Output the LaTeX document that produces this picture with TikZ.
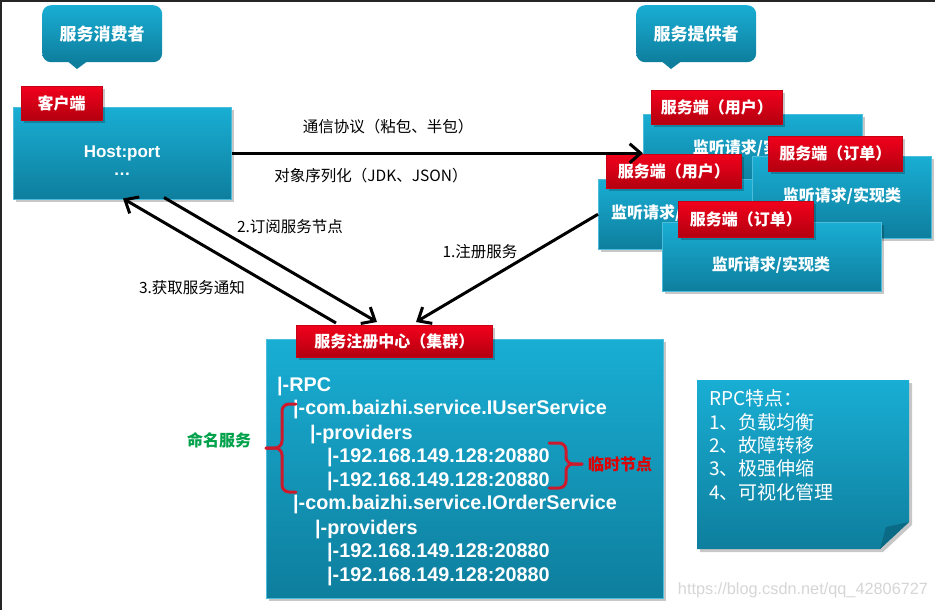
\documentclass[tikz,border=0pt]{standalone}
\usepackage{fontspec}
\setmainfont{Liberation Sans}
\newfontfamily\cjk{Noto Sans CJK SC}
\usetikzlibrary{arrows.meta,shadows}
\definecolor{bTop}{HTML}{19AED4}
\definecolor{bBot}{HTML}{0E7E9D}
\definecolor{bEdge}{HTML}{4CBCDB}
\definecolor{bFold}{HTML}{0B6A85}
\definecolor{rTop}{HTML}{F2001C}
\definecolor{rBot}{HTML}{B3000F}
\definecolor{rEdge}{HTML}{C80016}
\definecolor{braceRed}{HTML}{CC1A2C}
\definecolor{tmpRed}{HTML}{E00000}
\definecolor{nameGreen}{HTML}{00A14B}
\definecolor{wmGray}{HTML}{D6D6D6}
\tikzset{
  bshadow/.style={drop shadow={shadow xshift=3pt,shadow yshift=-3pt,opacity=0.22,fill=black}},
  bluebox/.style={rectangle,inner sep=0pt,top color=bTop,bottom color=bBot,draw=bEdge,line width=0.5pt,bshadow},
  redlab/.style={rectangle,inner sep=0pt,top color=rTop,bottom color=rBot,draw=rEdge,line width=0.5pt,text=white,
    font=\cjk\bfseries\fontsize{16}{16}\selectfont,bshadow},
  callout/.style={rectangle,rounded corners=9pt,inner sep=0pt,top color=bTop,bottom color=bBot,text=white,
    font=\cjk\bfseries\fontsize{17}{17}\selectfont,minimum width=120pt,minimum height=57pt,anchor=north west},
  boxtxt/.style={text=white,inner sep=0pt,font=\cjk\bfseries\fontsize{16}{16}\selectfont},
  regtxt/.style={text=white,inner sep=0pt,anchor=west,font=\bfseries\fontsize{19.8}{19.8}\selectfont},
  rpctxt/.style={text=white,inner sep=0pt,anchor=west,font=\cjk\fontsize{19}{19}\selectfont},
  arrlab/.style={text=black,inner sep=0pt,font=\cjk\fontsize{15.5}{15.5}\selectfont},
  conn/.style={line width=3pt,-{Straight Barb[length=11pt,width=19pt]}},
  bracestyle/.style={draw=braceRed,line width=3pt,rounded corners=7pt,line cap=round},
}
\begin{document}
\begin{tikzpicture}[x=1pt,y=-1pt]
\useasboundingbox (0,0) rectangle (935,610);
\fill[white] (0,0) rectangle (935,610);
\fill[black!85] (0,0) rectangle (935,2);
\fill[black!85] (0,0) rectangle (2,610);

% callouts
\fill[bBot] (66,60) -- (89,60) -- (77,69) -- cycle;
\node[callout] (cons) at (42,5) {服务消费者};
\fill[bBot] (660,60) -- (683,60) -- (671,69) -- cycle;
\node[callout] (prov) at (636,5) {服务提供者};

% client
\node[bluebox,anchor=north west,minimum width=218pt,minimum height=92pt] (client) at (13,107) {};
\node[redlab,anchor=north west,minimum width=81pt,minimum height=34pt] (clientlab) at (21,86) {客户端};
\node[text=white,inner sep=0pt,font=\bfseries\fontsize{17}{17}\selectfont] (host) at (122,153) {Host:port};
\node[text=white,inner sep=0pt,font=\bfseries\fontsize{17}{17}\selectfont] (dots) at (122,174) {…};

% provider A
\node[bluebox,anchor=north west,minimum width=219pt,minimum height=70pt] (provA) at (643,114) {};
\node[boxtxt] (provAtxt) at (752,148) {监听请求/实现类};
\node[redlab,anchor=north west,minimum width=131pt,minimum height=34pt] (provAlab) at (651,90) {服务端（用户）};
% provider C
\node[bluebox,anchor=north west,minimum width=219pt,minimum height=70pt] (provC) at (598,179) {};
\node[boxtxt,anchor=west] (provCtxt) at (611,213) {监听请求/实现类};
\node[redlab,anchor=north west,minimum width=135pt,minimum height=34pt] (provClab) at (606,154) {服务端（用户）};
% provider B
\node[bluebox,anchor=north west,minimum width=179pt,minimum height=82pt] (provB) at (752,156) {};
\node[boxtxt] (provBtxt) at (842,196) {监听请求/实现类};
\node[redlab,anchor=north west,minimum width=134pt,minimum height=35pt] (provBlab) at (768,136) {服务端（订单）};
% provider D
\node[bluebox,anchor=north west,minimum width=219pt,minimum height=69pt] (provD) at (662,222) {};
\node[boxtxt] (provDtxt) at (771,265) {监听请求/实现类};
\node[redlab,anchor=north west,minimum width=135pt,minimum height=36pt] (provDlab) at (678,201) {服务端（订单）};

% registry
\node[bluebox,anchor=north west,minimum width=397pt,minimum height=259pt] (reg) at (266,339) {};
\node[redlab,anchor=north west,minimum width=196pt,minimum height=32pt] (reglab) at (296,325) {服务注册中心（集群）};
\node[regtxt] (r1) at (277,387) {|-RPC};
\node[regtxt] (r2) at (293,410) {|-com.baizhi.service.IUserService};
\node[regtxt] (r3) at (310,435) {|-providers};
\node[regtxt] (r4) at (327,458) {|-192.168.149.128:20880};
\node[regtxt] (r5) at (327,482) {|-192.168.149.128:20880};
\node[regtxt] (r6) at (293,505) {|-com.baizhi.service.IOrderService};
\node[regtxt] (r7) at (315,530) {|-providers};
\node[regtxt] (r8) at (327,553) {|-192.168.149.128:20880};
\node[regtxt] (r9) at (327,577) {|-192.168.149.128:20880};

% braces
\draw[bracestyle] (296,404) -- (282,404) -- (282,448) -- (266,448);
\draw[bracestyle] (296,492) -- (282,492) -- (282,448) -- (266,448);
\draw[bracestyle] (549,443) -- (566,443) -- (566,464) -- (582,464);
\draw[bracestyle] (549,488) -- (566,488) -- (566,464) -- (582,464);
\node[text=tmpRed,inner sep=0pt,anchor=west,font=\cjk\bfseries\fontsize{16}{16}\selectfont] (tmp) at (588,464) {临时节点};
\node[text=nameGreen,inner sep=0pt,font=\cjk\bfseries\fontsize{16}{16}\selectfont] (naming) at (219,440) {命名服务};

% RPC features note
\fill[black,opacity=0.22] (700,383) -- (912,383) -- (912,525) -- (883,552) -- (700,552) -- cycle;
\shade[top color=bTop,bottom color=bBot] (697,380) -- (909,380) -- (909,522) -- (880,549) -- (697,549) -- cycle;
\fill[bFold] (880,549) -- (909,522) -- (886,527) -- cycle;
\node[rpctxt] (f0) at (709,398) {RPC特点：};
\node[rpctxt] (f1) at (709,422) {1、负载均衡};
\node[rpctxt] (f2) at (709,445) {2、故障转移};
\node[rpctxt] (f3) at (709,468) {3、极强伸缩};
\node[rpctxt] (f4) at (709,492) {4、可视化管理};

% connectors
\draw[conn] (client.east) -- (provA.west |- client.east);
\draw[conn] ([xshift=151pt,yshift=2pt]client.south west) -- ([xshift=81pt,yshift=3pt]reglab.north west);
\draw[conn] ([xshift=40pt,yshift=2pt]reglab.north west) -- ([xshift=110pt,yshift=1pt]client.south west);
\draw[conn] (provC.west) -- ([xshift=120pt,yshift=3pt]reglab.north west);

% connector labels
\node[arrlab] (l1) at (388,127) {通信协议（粘包、半包）};
\node[arrlab] (l2) at (371,176) {对象序列化（JDK、JSON）};
\node[arrlab] (l3) at (290,227) {2.订阅服务节点};
\node[arrlab] (l4) at (192,288) {3.获取服务通知};
\node[arrlab] (l5) at (480,252) {1.注册服务};

% watermark
\node[text=wmGray,inner sep=0pt,font=\fontsize{16.3}{16.3}\selectfont] (wm) at (803,590) {https://blog.csdn.net/qq\_42806727};
\end{tikzpicture}
\end{document}
